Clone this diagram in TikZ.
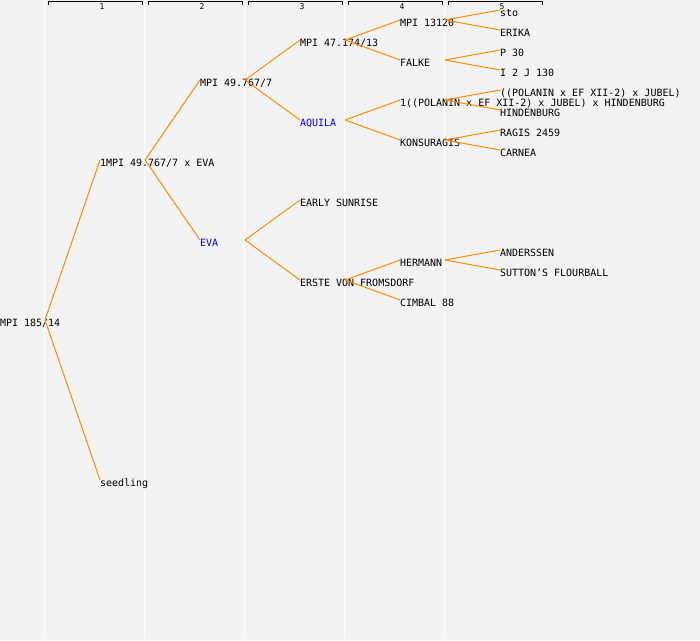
\documentclass[tikz,border=0pt]{standalone}
\usepackage{fontspec}
\newfontfamily\pedfont{DejaVu Sans Mono}
\definecolor{bgc}{HTML}{F3F3F3}
\definecolor{edgec}{HTML}{FF8C00}
\definecolor{hlc}{HTML}{0000FF}
\tikzset{
  pers/.style={anchor=west, inner sep=0pt, outer sep=0pt, text height=12pt, text depth=0pt,
               font=\pedfont\fontsize{10pt}{12pt}\selectfont, text=black},
  blue/.style={text=hlc},
  collabel/.style={anchor=base, inner sep=0pt, font=\pedfont\fontsize{8pt}{9pt}\selectfont},
  link/.style={draw=edgec, line width=1pt},
  guide/.style={draw=white, line width=1pt},
  bracket/.style={draw=black, line width=1pt}
}
\begin{document}
\begin{tikzpicture}[x=1pt,y=-1pt]
\useasboundingbox (0,0) rectangle (700,640);
\fill[bgc] (0,0) rectangle (700,640);
\foreach \x in {44.5,144.5,244.5,344.5,444.5}
  \draw[guide] (\x,0) -- (\x,638);
\foreach \k in {1,...,5}{
  \draw[bracket] (100*\k-52,4.5) -- (100*\k-52,1.5) -- (100*\k+42,1.5) -- (100*\k+42,4.5);
  \node[collabel] (col\k) at (100*\k+2,9) {\k};
}
% generation 0
\node[pers] (a) at (0,320) {MPI 185/14};
% generation 1
\node[pers] (b1) at (100,160) {1MPI 49.767/7 x EVA};
\node[pers] (b2) at (100,480) {seedling};
% generation 2
\node[pers] (c1) at (200,80) {MPI 49.767/7};
\node[pers,blue] (c2) at (200,240) {EVA};
% generation 3
\node[pers] (d1) at (300,40) {MPI 47.174/13};
\node[pers,blue] (d2) at (300,120) {AQUILA};
\node[pers] (d3) at (300,200) {EARLY SUNRISE};
\node[pers] (d4) at (300,280) {ERSTE VON FROMSDORF};
% generation 4
\node[pers] (e1) at (400,20) {MPI 13120};
\node[pers] (e2) at (400,60) {FALKE};
\node[pers] (e3) at (400,100) {1((POLANIN x EF XII-2) x JUBEL) x HINDENBURG};
\node[pers] (e4) at (400,140) {KONSURAGIS};
\node[pers] (e5) at (400,260) {HERMANN};
\node[pers] (e6) at (400,300) {CIMBAL 88};
% generation 5
\node[pers] (f1) at (500,10) {sto};
\node[pers] (f2) at (500,30) {ERIKA};
\node[pers] (f3) at (500,50) {P 30};
\node[pers] (f4) at (500,70) {I 2 J 130};
\node[pers] (f5) at (500,90) {((POLANIN x EF XII-2) x JUBEL)};
\node[pers] (f6) at (500,110) {HINDENBURG};
\node[pers] (f7) at (500,130) {RAGIS 2459};
\node[pers] (f8) at (500,150) {CARNEA};
\node[pers] (f9) at (500,250) {ANDERSSEN};
\node[pers] (f10) at (500,270) {SUTTON’S FLOURBALL};
% fork points
\foreach \n in {a,b1,c1,c2,d1,d2,d4,e1,e2,e3,e4,e5}
  \coordinate (k\n) at ([xshift=45pt]\n.west);
% connectors
\draw[link] (ka) -- (b1.west);  \draw[link] (ka) -- (b2.west);
\draw[link] (kb1) -- (c1.west); \draw[link] (kb1) -- (c2.west);
\draw[link] (kc1) -- (d1.west); \draw[link] (kc1) -- (d2.west);
\draw[link] (kc2) -- (d3.west); \draw[link] (kc2) -- (d4.west);
\draw[link] (kd1) -- (e1.west); \draw[link] (kd1) -- (e2.west);
\draw[link] (kd2) -- (e3.west); \draw[link] (kd2) -- (e4.west);
\draw[link] (kd4) -- (e5.west); \draw[link] (kd4) -- (e6.west);
\draw[link] (ke1) -- (f1.west); \draw[link] (ke1) -- (f2.west);
\draw[link] (ke2) -- (f3.west); \draw[link] (ke2) -- (f4.west);
\draw[link] (ke3) -- (f5.west); \draw[link] (ke3) -- (f6.west);
\draw[link] (ke4) -- (f7.west); \draw[link] (ke4) -- (f8.west);
\draw[link] (ke5) -- (f9.west); \draw[link] (ke5) -- (f10.west);
\end{tikzpicture}
\end{document}
